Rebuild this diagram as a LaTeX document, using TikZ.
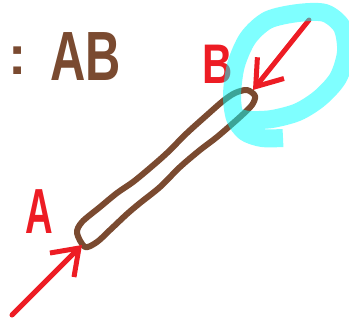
\documentclass[tikz,border=0pt]{standalone}
\usepackage{fontspec}
\newfontfamily\inkfont{Liberation Sans}
\usetikzlibrary{arrows.meta}
\definecolor{brownink}{RGB}{122,74,48}
\definecolor{redink}{RGB}{237,28,36}
\definecolor{hiliter}{RGB}{0,255,255}

\begin{document}
\begin{tikzpicture}[x=1bp,y=-1bp,line width=6bp,line cap=round,line join=round,
  >={Straight Barb[length=24bp,width=34bp]},
  redarrow/.style={->,draw=redink,line width=5bp},
  inktext/.style={inner sep=0pt,anchor=base west,font=\inkfont\bfseries}]
  \useasboundingbox (0,0) rectangle (349,324);
  % lazo alargado (segmento)
  \draw[brownink] plot[smooth cycle] coordinates {(77,233) (82,222) (100,207) (117,193)
    (133,182) (150,168) (167,153) (187,133) (207,115) (223,101) (235,93) (247,90)
    (255,96) (252,105) (240,117) (217,137) (200,150) (180,167) (160,187) (140,203)
    (127,214) (110,230) (97,242) (85,247)};
  % rotulo de arriba
  \node[inktext,text=brownink] (colon) at (5,74) {\fontsize{55}{55}\selectfont :};
  \node[inktext,text=brownink] (segAB) at (47,80) {\fontsize{70}{70}\selectfont\scalebox{0.7}[1]{AB}};
  % extremos y flechas
  \coordinate (endA) at (82,245);
  \coordinate (tailA) at (12,315);
  \coordinate (endB) at (253,90);
  \coordinate (tailB) at (309,20);
  \draw[redarrow] (tailA) -- (endA);
  \draw[redarrow] (tailB) -- (endB);
  \node[inktext,text=redink] (labA) at (22,233) {\fontsize{64}{64}\selectfont\scalebox{0.6}[1]{A}};
  \node[inktext,text=redink] (labB) at (199,83) {\fontsize{56}{56}\selectfont\scalebox{0.75}[1]{B}};
  % marca cian
  \draw[hiliter,line width=18bp,opacity=.5,line cap=butt] plot[smooth] coordinates {(283,138)
    (262,138) (245,132) (235,118) (232,95) (236,65) (248,38) (268,20) (298,13) (325,13)
    (342,27) (346,52) (338,78) (320,98) (298,112) (272,119) (250,120) (240,118)};
\end{tikzpicture}
\end{document}
